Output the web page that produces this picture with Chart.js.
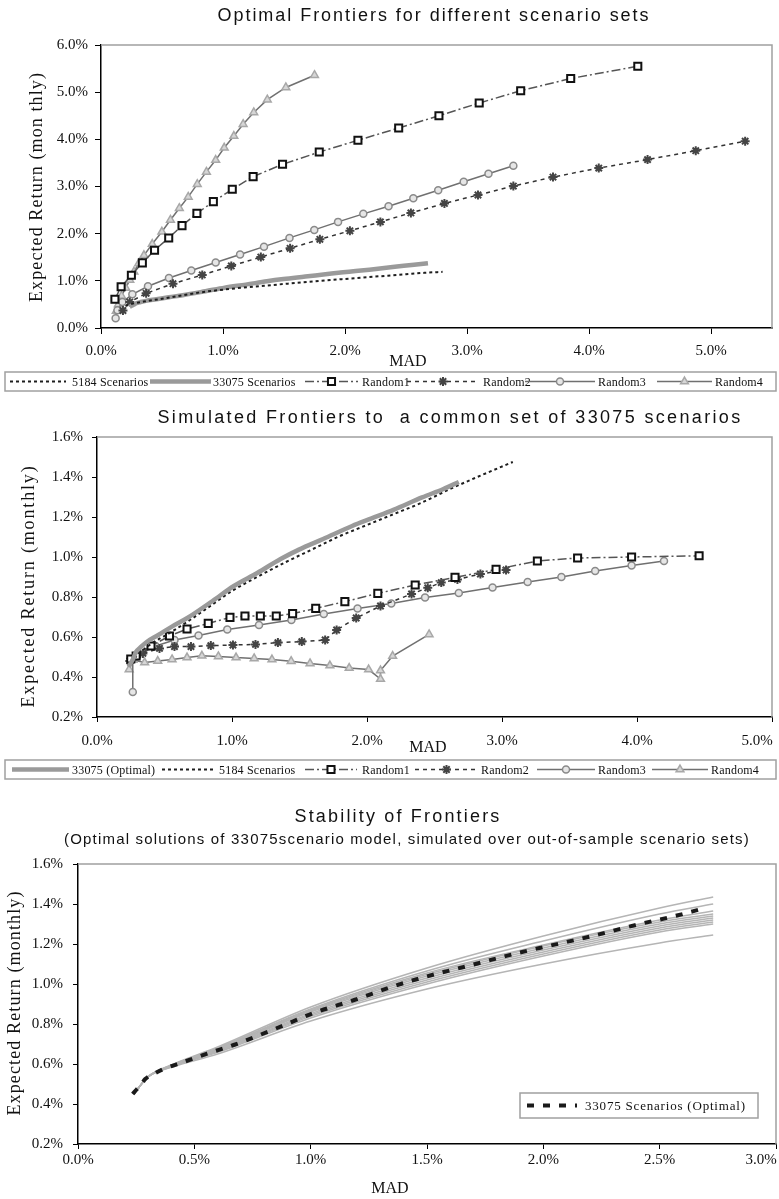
<!DOCTYPE html>
<html>
<head>
<meta charset="utf-8">
<script src="https://cdn.jsdelivr.net/npm/chart.js@4.4.1/dist/chart.umd.min.js"></script>
<style>
  body { margin: 0; background: #fff; }
  #page { position: relative; width: 779px; height: 1199px; }
  canvas { position: absolute; left: 0; display: block; }
</style>
</head>
<body>
<div id="page">
  <canvas id="frontChart" width="779" height="395" style="top:0"></canvas>
  <canvas id="simChart" width="779" height="400" style="top:395px"></canvas>
  <canvas id="stabChart" width="779" height="404" style="top:795px"></canvas>
</div>
<script>
// ---- tick labels ----
const frontXTicks = [0, 1, 2, 3, 4, 5];
const frontYTicks = [0, 1, 2, 3, 4, 5, 6];
const simXTicks = [0, 1, 2, 3, 4, 5];
const simYTicks = [0.2, 0.4, 0.6, 0.8, 1.0, 1.2, 1.4, 1.6];
const stabXTicks = [0, 0.5, 1.0, 1.5, 2.0, 2.5, 3.0];
const stabYTicks = [0.2, 0.4, 0.6, 0.8, 1.0, 1.2, 1.4, 1.6];

// ---- optimal 33075 frontier (MAD %, expected return %) ----
const optMad = [0.235, 0.25, 0.267, 0.289, 0.325, 0.368, 0.454, 0.555, 0.669, 0.856, 1.014, 1.187, 1.36, 1.496, 1.675, 1.89, 2.034, 2.2, 2.408, 2.566, 2.68];
const optRet = [0.45, 0.47, 0.49, 0.525, 0.55, 0.575, 0.61, 0.652, 0.695, 0.78, 0.855, 0.92, 0.99, 1.037, 1.09, 1.155, 1.193, 1.237, 1.298, 1.34, 1.375];

// ---- chart 1: optimal frontiers for different scenario sets ----
const sc5184Mad = [0.2, 0.25, 0.35, 0.5, 0.8, 1.1, 1.4, 1.8, 2.1, 2.35, 2.5, 2.65, 2.8];
const sc5184Ret = [0.47, 0.51, 0.56, 0.62, 0.75, 0.84, 0.91, 1.0, 1.06, 1.11, 1.14, 1.17, 1.19];
const rand1Mad = [0.114, 0.165, 0.249, 0.339, 0.439, 0.555, 0.664, 0.786, 0.921, 1.076, 1.247, 1.488, 1.789, 2.106, 2.44, 2.77, 3.10, 3.44, 3.85, 4.40];
const rand1Ret = [0.61, 0.875, 1.12, 1.38, 1.65, 1.91, 2.17, 2.43, 2.68, 2.94, 3.21, 3.47, 3.73, 3.98, 4.24, 4.50, 4.77, 5.03, 5.29, 5.55];
const rand2Mad = [0.18, 0.236, 0.37, 0.59, 0.83, 1.068, 1.31, 1.55, 1.794, 2.04, 2.29, 2.54, 2.815, 3.09, 3.38, 3.705, 4.08, 4.48, 4.875, 5.28];
const rand2Ret = [0.37, 0.55, 0.735, 0.94, 1.125, 1.315, 1.505, 1.69, 1.88, 2.06, 2.25, 2.44, 2.64, 2.82, 3.01, 3.20, 3.39, 3.57, 3.76, 3.96];
const rand3Mad = [0.12, 0.135, 0.175, 0.257, 0.385, 0.557, 0.74, 0.94, 1.14, 1.336, 1.545, 1.748, 1.943, 2.15, 2.357, 2.56, 2.764, 2.973, 3.176, 3.38];
const rand3Ret = [0.205, 0.375, 0.55, 0.715, 0.885, 1.06, 1.22, 1.39, 1.56, 1.725, 1.91, 2.08, 2.25, 2.42, 2.58, 2.75, 2.92, 3.10, 3.27, 3.44];
const rand4Mad = [0.125, 0.142, 0.168, 0.203, 0.236, 0.27, 0.309, 0.352, 0.42, 0.499, 0.569, 0.642, 0.715, 0.789, 0.864, 0.94, 1.01, 1.089, 1.165, 1.252, 1.363, 1.515, 1.75];
const rand4Ret = [0.36, 0.50, 0.68, 0.85, 1.02, 1.19, 1.37, 1.54, 1.78, 2.04, 2.29, 2.54, 2.78, 3.05, 3.31, 3.56, 3.82, 4.07, 4.32, 4.57, 4.84, 5.10, 5.36];

// ---- chart 2: frontiers simulated on the common 33075 set ----
const sim5184Mad = [0.25, 0.3, 0.4, 0.55, 0.7, 0.86, 1.0, 1.2, 1.4, 1.6, 1.8, 2.0, 2.2, 2.4, 2.6, 2.8, 3.08];
const sim5184Ret = [0.47, 0.51, 0.565, 0.625, 0.69, 0.765, 0.83, 0.905, 0.975, 1.04, 1.105, 1.16, 1.215, 1.27, 1.335, 1.395, 1.475];
const simR1Mad = [0.25, 0.29, 0.40, 0.537, 0.667, 0.824, 0.985, 1.096, 1.21, 1.328, 1.449, 1.62, 1.836, 2.08, 2.357, 2.652, 2.956, 3.262, 3.56, 3.96, 4.46];
const simR1Ret = [0.49, 0.505, 0.555, 0.605, 0.64, 0.668, 0.698, 0.705, 0.705, 0.705, 0.717, 0.743, 0.777, 0.818, 0.86, 0.898, 0.938, 0.98, 0.995, 1.0, 1.006];
const simR2Mad = [0.243, 0.30, 0.34, 0.463, 0.574, 0.696, 0.843, 1.007, 1.174, 1.34, 1.517, 1.69, 1.775, 1.92, 2.1, 2.33, 2.45, 2.55, 2.67, 2.84, 3.03];
const simR2Ret = [0.48, 0.51, 0.518, 0.543, 0.552, 0.552, 0.557, 0.56, 0.563, 0.572, 0.577, 0.585, 0.635, 0.695, 0.755, 0.815, 0.846, 0.872, 0.888, 0.915, 0.935];
const simR3Mad = [0.265, 0.265, 0.30, 0.434, 0.574, 0.752, 0.965, 1.2, 1.44, 1.68, 1.93, 2.18, 2.43, 2.68, 2.93, 3.19, 3.44, 3.69, 3.96, 4.2];
const simR3Ret = [0.325, 0.49, 0.51, 0.555, 0.585, 0.608, 0.638, 0.66, 0.685, 0.715, 0.742, 0.768, 0.797, 0.82, 0.847, 0.875, 0.90, 0.93, 0.957, 0.98];
const simR4Mad = [0.238, 0.267, 0.353, 0.45, 0.556, 0.667, 0.777, 0.899, 1.03, 1.164, 1.296, 1.438, 1.578, 1.725, 1.868, 2.012, 2.10, 2.10, 2.19, 2.46];
const simR4Ret = [0.438, 0.485, 0.472, 0.48, 0.488, 0.497, 0.506, 0.503, 0.497, 0.493, 0.487, 0.479, 0.468, 0.457, 0.445, 0.437, 0.39, 0.432, 0.505, 0.613];

// ---- chart 3: out-of-sample runs of the optimal solutions ----
const stabMad = [0.24, 0.3, 0.4, 0.6, 1.0, 1.5, 2.0, 2.5, 2.73];
const stabRun1 = [0.45, 0.535, 0.595, 0.685, 0.885, 1.08, 1.24, 1.38, 1.435];
const stabRun2 = [0.45, 0.535, 0.593, 0.68, 0.875, 1.065, 1.215, 1.35, 1.40];
const stabRun3 = [0.45, 0.535, 0.592, 0.678, 0.87, 1.055, 1.195, 1.32, 1.365];
const stabRun4 = [0.45, 0.535, 0.59, 0.675, 0.865, 1.048, 1.19, 1.31, 1.35];
const stabRun5 = [0.45, 0.535, 0.59, 0.672, 0.86, 1.04, 1.18, 1.30, 1.34];
const stabRun6 = [0.45, 0.535, 0.588, 0.668, 0.852, 1.03, 1.17, 1.29, 1.33];
const stabRun7 = [0.45, 0.535, 0.588, 0.665, 0.845, 1.02, 1.16, 1.28, 1.32];
const stabRun8 = [0.45, 0.535, 0.587, 0.662, 0.838, 1.01, 1.15, 1.27, 1.31];
const stabRun9 = [0.45, 0.535, 0.585, 0.658, 0.83, 1.0, 1.14, 1.26, 1.30];
const stabRun10 = [0.45, 0.535, 0.583, 0.65, 0.815, 0.975, 1.10, 1.205, 1.245];
const stabRuns = [stabRun1, stabRun2, stabRun3, stabRun4, stabRun5, stabRun6, stabRun7, stabRun8, stabRun9, stabRun10];

const SERIF = "'Liberation Serif', 'Times New Roman', serif";
const SANS = "'Liberation Sans', Arial, sans-serif";

// line styles
const styleOpt = { borderColor: '#9a9a9a', borderWidth: 4.5, pointRadius: 0, cubicInterpolationMode: 'monotone' };
const style5184 = { borderColor: '#1e1e1e', borderWidth: 2, borderDash: [3, 3], pointRadius: 0, cubicInterpolationMode: 'monotone' };
const styleR1 = { borderColor: '#555', borderWidth: 1.5, borderDash: [9, 3, 2, 3], pointStyle: 'rect', pointRadius: 5, pointBorderWidth: 2, pointBorderColor: '#111', pointBackgroundColor: '#fff' };
const styleR2 = { borderColor: '#333', borderWidth: 1.5, borderDash: [4, 4], pointStyle: 'star', pointRadius: 4.5, pointBorderWidth: 2, pointBorderColor: '#444', pointBackgroundColor: '#444' };
const styleR3 = { borderColor: '#707070', borderWidth: 1.5, pointStyle: 'circle', pointRadius: 3.5, pointBorderWidth: 1.5, pointBorderColor: '#8a8a8a', pointBackgroundColor: '#e6e6e6' };
const styleR4 = { borderColor: '#707070', borderWidth: 1.5, pointStyle: 'triangle', pointRadius: 4.5, pointBorderWidth: 1.5, pointBorderColor: '#a8a8a8', pointBackgroundColor: '#d6d6d6' };
const styleDash = { borderColor: '#1a1a1a', borderWidth: 4, borderDash: [7, 9], pointRadius: 0, cubicInterpolationMode: 'monotone' };
const styleRun = { borderColor: '#b5b5b5', borderWidth: 1.5, pointRadius: 0, cubicInterpolationMode: 'monotone' };

function xy(xs, ys) {
    return xs.map((x, i) => ({ x: x, y: ys[i] }));
}

function series(label, xs, ys, style) {
    return Object.assign({ label: label, data: xy(xs, ys), showLine: true }, style);
}

function pct(v) {
    return v.toFixed(1) + '%';
}

function xAxis(min, max, vals, tl, pad, shiftLast) {
    return {
        type: 'linear', position: 'bottom', min: min, max: max,
        afterBuildTicks: s => { s.ticks = vals.map(v => ({ value: v })); },
        afterFit: s => { s.height = 30; s.paddingLeft = 0; s.paddingRight = 0; },
        grid: { drawOnChartArea: false, tickLength: tl, color: '#000' },
        border: { color: '#000', width: 1.5 },
        ticks: {
            autoSkip: false, maxRotation: 0, padding: pad, color: '#111',
            font: { family: SERIF, size: 15 },
            // Excel pulls the last label inside the frame
            callback: v => (shiftLast && v === max) ? pct(v) + '\u00a0'.repeat(8) : pct(v)
        }
    };
}

function yAxis(min, max, vals, width, tl, pad) {
    return {
        type: 'linear', position: 'left', min: min, max: max,
        afterBuildTicks: s => { s.ticks = vals.map(v => ({ value: v })); },
        afterFit: s => { s.width = width; s.paddingTop = 0; s.paddingBottom = 0; },
        grid: { drawOnChartArea: false, tickLength: tl, color: '#000' },
        border: { color: '#000', width: 1.5 },
        ticks: { padding: pad, color: '#111', font: { family: SERIF, size: 15 }, callback: v => pct(v) }
    };
}

// grey top/right edge of the plot area
const frame = {
    id: 'frame',
    beforeDatasetsDraw(chart) {
        const { ctx, chartArea: a } = chart;
        ctx.save();
        ctx.strokeStyle = '#a0a0a0';
        ctx.lineWidth = 1.5;
        ctx.beginPath();
        ctx.moveTo(a.left, a.top);
        ctx.lineTo(a.right, a.top);
        ctx.lineTo(a.right, a.bottom);
        ctx.stroke();
        ctx.restore();
    }
};

// titles and axis titles, stretched to the original widths
function textPlugin(items) {
    return {
        id: 'texts',
        afterDraw(chart) {
            const ctx = chart.ctx;
            items.forEach(t => {
                ctx.save();
                ctx.font = t.font;
                ctx.fillStyle = '#111';
                ctx.letterSpacing = '0px';
                const natural = ctx.measureText(t.text).width;
                const w = t.w || natural;
                ctx.letterSpacing = ((w - natural) / t.text.length) + 'px';
                ctx.translate(t.x, t.y);
                if (t.rot) ctx.rotate(t.rot);
                ctx.textAlign = 'left';
                ctx.textBaseline = 'middle';
                ctx.fillText(t.text, -w / 2, 0);
                ctx.restore();
            });
        }
    };
}

// Excel style boxed legend: line sample with marker, then label
function legendPlugin(cfg) {
    return {
        id: 'boxLegend',
        afterDraw(chart) {
            const ctx = chart.ctx;
            const [bx, by, bw, bh] = cfg.box;
            const y = by + bh / 2;
            ctx.save();
            ctx.strokeStyle = '#a0a0a0';
            ctx.lineWidth = 1.5;
            ctx.strokeRect(bx, by, bw, bh);
            cfg.items.forEach(it => {
                const ds = chart.data.datasets[it.ds];
                ctx.save();
                ctx.strokeStyle = ds.borderColor;
                ctx.lineWidth = ds.borderWidth;
                ctx.setLineDash(ds.borderDash || []);
                ctx.beginPath();
                ctx.moveTo(it.x0, y);
                ctx.lineTo(it.x1, y);
                ctx.stroke();
                ctx.setLineDash([]);
                if (ds.pointRadius) {
                    ctx.fillStyle = ds.pointBackgroundColor;
                    ctx.strokeStyle = ds.pointBorderColor;
                    ctx.lineWidth = ds.pointBorderWidth;
                    Chart.helpers.drawPoint(ctx, {
                        pointStyle: ds.pointStyle, radius: ds.pointRadius,
                        borderWidth: ds.pointBorderWidth, rotation: 0
                    }, (it.x0 + it.x1) / 2, y);
                }
                ctx.font = cfg.font;
                ctx.letterSpacing = cfg.spacing;
                ctx.fillStyle = '#111';
                ctx.textBaseline = 'middle';
                ctx.fillText(ds.label, it.tx, y + 1);
                ctx.restore();
            });
            ctx.restore();
        }
    };
}

function baseOptions(padding, xs, ys) {
    return {
        responsive: false,
        animation: false,
        devicePixelRatio: 1,
        layout: { padding: padding },
        plugins: { legend: { display: false }, tooltip: { enabled: false } },
        scales: { x: xs, y: ys }
    };
}

// Chart 1
new Chart(document.getElementById('frontChart'), {
    type: 'scatter',
    data: {
        datasets: [
            series('5184 Scenarios', sc5184Mad, sc5184Ret, style5184),
            series('33075 Scenarios', optMad, optRet, styleOpt),
            series('Random1', rand1Mad, rand1Ret, styleR1),
            series('Random2', rand2Mad, rand2Ret, styleR2),
            series('Random3', rand3Mad, rand3Ret, styleR3),
            series('Random4', rand4Mad, rand4Ret, styleR4)
        ]
    },
    options: baseOptions({ top: 45, right: 2, bottom: 37, left: 0 },
        xAxis(0, 5.5, frontXTicks, 6, 8, false),
        yAxis(0, 6, frontYTicks, 101, 6, 7)),
    plugins: [frame,
        textPlugin([
            { text: 'Optimal Frontiers for different scenario sets', x: 434, y: 16, w: 433, font: '18px ' + SANS },
            { text: 'Expected Return (mon thly)', x: 37, y: 187, w: 230, rot: -Math.PI / 2, font: '18px ' + SERIF },
            { text: 'MAD', x: 408, y: 362, font: '16px ' + SERIF }
        ]),
        legendPlugin({
            box: [5, 372, 771, 19], font: '12px ' + SERIF, spacing: '0.2px',
            items: [
                { ds: 0, x0: 10, x1: 66, tx: 72 },
                { ds: 1, x0: 150, x1: 211, tx: 213 },
                { ds: 2, x0: 305, x1: 358, tx: 362 },
                { ds: 3, x0: 407, x1: 479, tx: 483 },
                { ds: 4, x0: 525, x1: 595, tx: 598 },
                { ds: 5, x0: 657, x1: 712, tx: 715 }
            ]
        })]
});

// Chart 2
new Chart(document.getElementById('simChart'), {
    type: 'scatter',
    data: {
        datasets: [
            series('33075 (Optimal)', optMad, optRet, styleOpt),
            series('5184 Scenarios', sim5184Mad, sim5184Ret, style5184),
            series('Random1', simR1Mad, simR1Ret, styleR1),
            series('Random2', simR2Mad, simR2Ret, styleR2),
            series('Random3', simR3Mad, simR3Ret, styleR3),
            series('Random4', simR4Mad, simR4Ret, styleR4)
        ]
    },
    options: baseOptions({ top: 42, right: 2, bottom: 48, left: 0 },
        xAxis(0, 5, simXTicks, 5, 10, true),
        yAxis(0.2, 1.6, simYTicks, 97, 5, 9)),
    plugins: [frame,
        textPlugin([
            { text: 'Simulated Frontiers to  a common set of 33075 scenarios', x: 450, y: 23, w: 585, font: '18px ' + SANS },
            { text: 'Expected Return (monthly)', x: 29, y: 191, w: 243, rot: -Math.PI / 2, font: '18px ' + SERIF },
            { text: 'MAD', x: 428, y: 353, font: '16px ' + SERIF }
        ]),
        legendPlugin({
            box: [5, 365, 771, 19], font: '12px ' + SERIF, spacing: '0.2px',
            items: [
                { ds: 0, x0: 12, x1: 69, tx: 72 },
                { ds: 1, x0: 162, x1: 216, tx: 219 },
                { ds: 2, x0: 305, x1: 357, tx: 362 },
                { ds: 3, x0: 415, x1: 478, tx: 481 },
                { ds: 4, x0: 537, x1: 595, tx: 598 },
                { ds: 5, x0: 652, x1: 708, tx: 711 }
            ]
        })]
});

// Chart 3
const stabSets = [series('33075 Scenarios (Optimal)', optMad, optRet, styleDash)];
stabRuns.forEach((run, i) => {
    stabSets.push(series('Run ' + (i + 1), stabMad, run, styleRun));
});

new Chart(document.getElementById('stabChart'), {
    type: 'scatter',
    data: { datasets: stabSets },
    options: baseOptions({ top: 69, right: 3, bottom: 25, left: 0 },
        xAxis(0, 3, stabXTicks, 5, 2, true),
        yAxis(0.2, 1.6, stabYTicks, 78, 5, 10)),
    plugins: [frame,
        textPlugin([
            { text: 'Stability of Frontiers', x: 398, y: 22, w: 207, font: '18px ' + SANS },
            { text: '(Optimal solutions of 33075scenario model, simulated over out-of-sample scenario sets)', x: 407, y: 45, w: 686, font: '15px ' + SANS },
            { text: 'Expected Return (monthly)', x: 15, y: 208, w: 225, rot: -Math.PI / 2, font: '18px ' + SERIF },
            { text: 'MAD', x: 390, y: 394, font: '16px ' + SERIF }
        ]),
        legendPlugin({
            box: [520, 298, 238, 25], font: '13px ' + SERIF, spacing: '0.8px',
            items: [{ ds: 0, x0: 527, x1: 577, tx: 585 }]
        })]
});
</script>
</body>
</html>
